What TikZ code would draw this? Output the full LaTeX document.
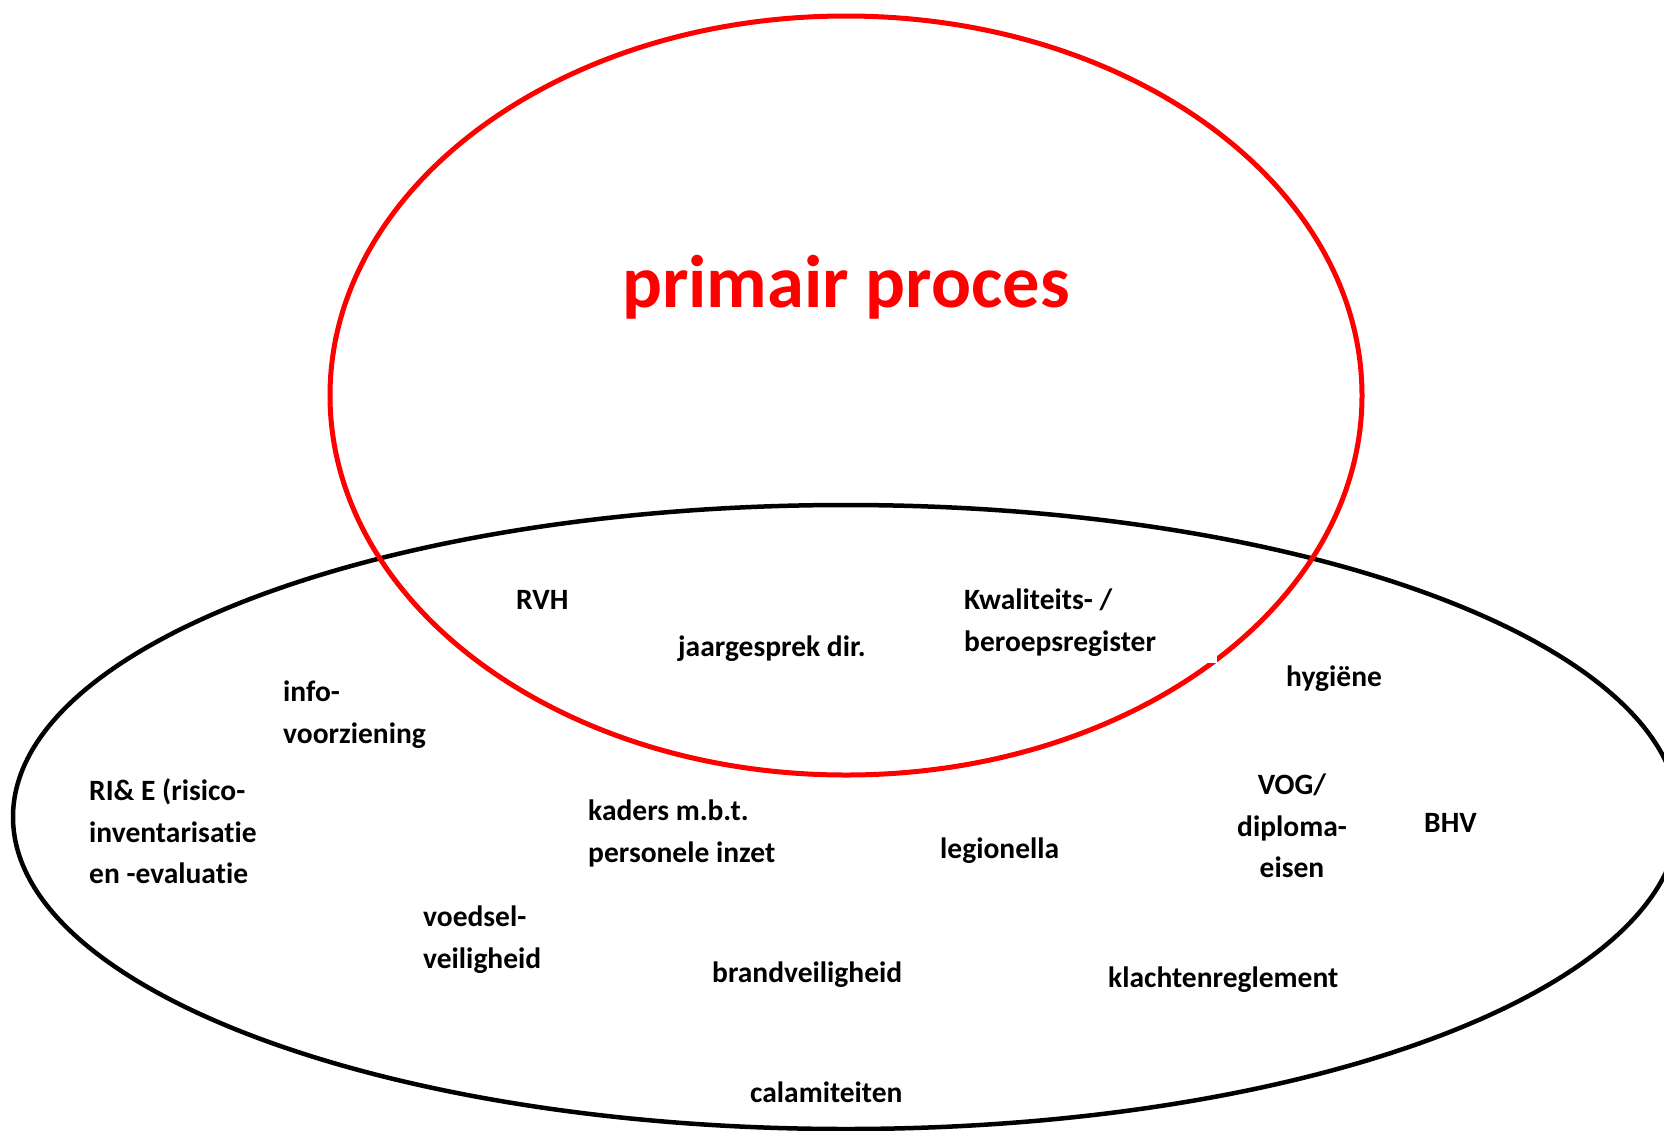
\documentclass[tikz,border=0pt]{standalone}
\usepackage{fontspec}
\setmainfont{Carlito}[Ligatures=NoCommon]
\begin{document}
\begin{tikzpicture}[x=1pt,y=-1pt,
  lbl/.style={anchor=base west,inner sep=0pt,font=\fontsize{29.5}{34}\selectfont\bfseries,text=black},
  lblc/.style={anchor=base,inner sep=0pt,font=\fontsize{29.5}{34}\selectfont\bfseries,text=black},
  big/.style={anchor=base,inner sep=0pt,font=\fontsize{74.5}{80}\selectfont\bfseries,text=red}]
\useasboundingbox (0,0) rectangle (1664,1130);
\clip (0,0) rectangle (1664,1130);
\fill[white] (0,0) rectangle (1664,1130);
% ellipses
\draw[black,line width=4.5pt] (846,817) ellipse [x radius=833, y radius=312];
\draw[red,line width=5pt] (846,395.5) ellipse [x radius=516, y radius=379.5];
\fill[white] (1206,645) rectangle (1217,663);
% title
\node[big] (title) at (846,307) {primair proces};
% labels
\node[lbl] (rvh) at (516,609) {RVH};
\node[lbl] (jaar) at (678,656) {jaargesprek dir.};
\node[lbl] (kw1) at (964,609) {Kwaliteits- /};
\node[lbl] (kw2) at (964,651) {beroepsregister};
\node[lbl] (hyg) at (1286,686) {hygiëne};
\node[lbl] (info1) at (283,701) {info-};
\node[lbl] (info2) at (283,743) {voorziening};
\node[lbl] (rie1) at (89,800) {RI\& E (risico-};
\node[lbl] (rie2) at (89,842) {inventarisatie};
\node[lbl] (rie3) at (89,883) {en -evaluatie};
\node[lbl] (kad1) at (588,820) {kaders m.b.t.};
\node[lbl] (kad2) at (588,862) {personele inzet};
\node[lbl] (leg) at (940,858) {legionella};
\node[lblc] (vog1) at (1292,794) {VOG/};
\node[lblc] (vog2) at (1292,836) {diploma-};
\node[lblc] (vog3) at (1292,877) {eisen};
\node[lbl] (bhv) at (1424,832) {BHV};
\node[lbl] (voed1) at (423,926) {voedsel-};
\node[lbl] (voed2) at (423,968) {veiligheid};
\node[lbl] (brand) at (712,982) {brandveiligheid};
\node[lbl] (klacht) at (1108,987) {klachtenreglement};
\node[lbl] (calam) at (750,1102) {calamiteiten};
\end{tikzpicture}
\end{document}
